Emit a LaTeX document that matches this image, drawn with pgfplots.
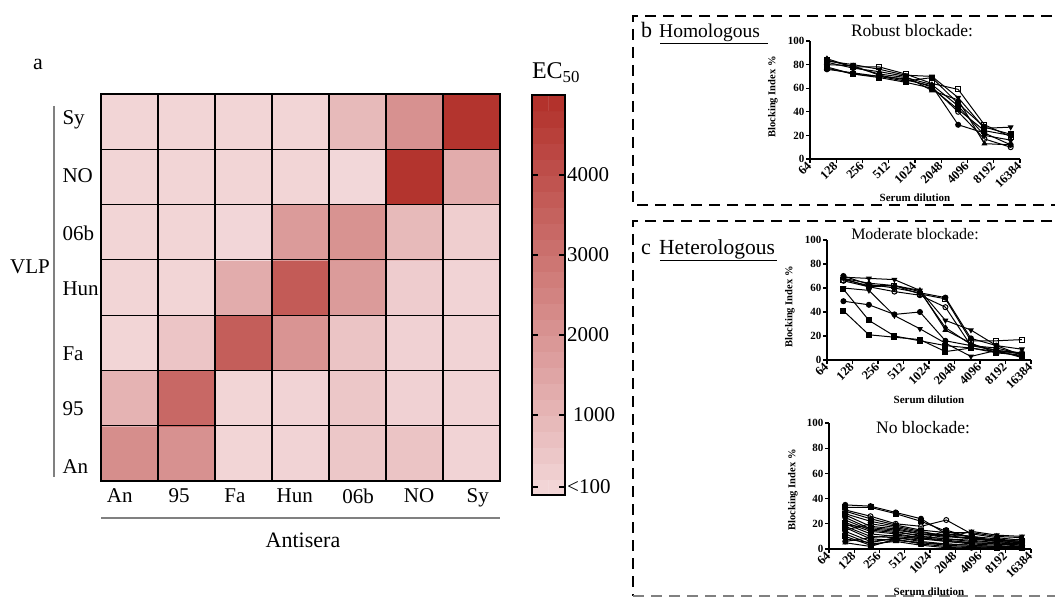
\documentclass[border=0pt]{standalone}
\usepackage{pgfplots}
\pgfplotsset{compat=1.18}
\usepackage{fontspec}
\setmainfont{Liberation Serif}
\newcommand{\fs}[1]{\fontsize{#1}{#1}\selectfont}
\begin{document}
\begin{tikzpicture}[x=1pt,y=1pt]
\path[use as bounding box] (0,0) rectangle (1055,598);
% ---------------- panel a ----------------
\begin{axis}[
  at={(101pt,117pt)}, anchor=south west,
  scale only axis, width=399pt, height=387pt,
  xmin=-0.5, xmax=6.5, ymin=-0.5, ymax=6.5,
  axis on top,
  axis line style={line width=2.5pt},
  xtick={-0.17,0.87,1.85,2.90,4.01,5.08,6.11},
  xticklabels={An,95,Fa,Hun,06b,NO,Sy},
  ytick={-0.23,0.80,1.81,2.97,3.98,5.02,6.03},
  yticklabels={An,95,Fa,Hun,06b,NO,Sy},
  major tick length=0pt,
  minor xtick={0.5,1.5,2.5,3.5,4.5,5.5},
  minor ytick={0.5,1.5,2.5,3.5,4.5,5.5},
  minor tick length=0pt,
  xminorgrids, yminorgrids,
  minor grid style={black, line width=1.1pt},
  tick label style={font=\fs{21}},
  xticklabel style={yshift=-4pt},
  yticklabel style={anchor=west, xshift=-42pt},
  colormap={ec}{rgb255(0)=(243,216,218) rgb255(1)=(178,48,42)},
  point meta min=0, point meta max=5000,
]
\addplot[matrix plot*, mesh/cols=7, point meta=explicit] table[meta=c]{
x y c
0 0 2200
1 0 2100
2 0 100
3 0 150
4 0 500
5 0 600
6 0 150
0 1 1100
1 1 3300
2 1 100
3 1 150
4 1 500
5 1 200
6 1 150
0 2 100
1 2 550
2 2 3600
3 2 2000
4 2 600
5 2 200
6 2 150
0 3 100
1 3 100
2 3 1300
3 3 3700
4 3 1800
5 3 350
6 3 150
0 4 100
1 4 100
2 4 60
3 4 1800
4 4 2050
5 4 900
6 4 300
0 5 100
1 5 100
2 5 100
3 5 100
4 5 40
5 5 4850
6 5 1300
0 6 100
1 6 100
2 6 100
3 6 100
4 6 900
5 6 2100
6 6 4850
};
\end{axis}
% ---------------- colour bar ----------------
\begin{axis}[
  at={(532pt,103pt)}, anchor=south west,
  scale only axis, width=33pt, height=400pt,
  xmin=-0.5, xmax=1.5, ymin=0, ymax=5000,
  xtick=\empty,
  ytick={100,1000,2000,3000,4000},
  yticklabels={{<100},{\hspace*{6pt}1000},2000,3000,4000},
  ytick pos=both, yticklabel pos=right,
  tick align=inside, major tick length=6pt,
  tick style={black, line width=1.3pt},
  axis line style={line width=2pt},
  axis on top,
  yticklabel style={font=\fs{21}, inner sep=2pt},
  colormap={ec}{rgb255(0)=(243,216,218) rgb255(1)=(178,48,42)},
  point meta min=0, point meta max=5000,
]
\addplot[matrix plot*, mesh/cols=2, point meta=explicit] table[meta=c]{
x y c
0 100 100
1 100 100
0 300 300
1 300 300
0 500 500
1 500 500
0 700 700
1 700 700
0 900 900
1 900 900
0 1100 1100
1 1100 1100
0 1300 1300
1 1300 1300
0 1500 1500
1 1500 1500
0 1700 1700
1 1700 1700
0 1900 1900
1 1900 1900
0 2100 2100
1 2100 2100
0 2300 2300
1 2300 2300
0 2500 2500
1 2500 2500
0 2700 2700
1 2700 2700
0 2900 2900
1 2900 2900
0 3100 3100
1 3100 3100
0 3300 3300
1 3300 3300
0 3500 3500
1 3500 3500
0 3700 3700
1 3700 3700
0 3900 3900
1 3900 3900
0 4100 4100
1 4100 4100
0 4300 4300
1 4300 4300
0 4500 4500
1 4500 4500
0 4700 4700
1 4700 4700
0 4900 4900
1 4900 4900
};
\end{axis}
\node[anchor=base, inner sep=0] at (38,528) {\fs{22}a};
\node[inner sep=0] at (30,331) {\fs{21}VLP};
\draw[gray, line width=1.8pt] (54,492) -- (54,121);
\draw[gray, line width=1.5pt] (101,80) -- (500,80);
\node[inner sep=0] at (303,58) {\fs{22}Antisera};
\node[inner sep=0] at (556,525) {\fs{24}EC\textsubscript{50}};
% ---------------- dashed boxes ----------------
\draw[line width=2.5pt, dash pattern=on 11pt off 7pt] (1070,582) -- (633,582) -- (633,393) -- (1070,393);
\draw[line width=2.5pt, dash pattern=on 11pt off 7pt] (1070,377) -- (633,377) -- (633,2);
\draw[gray, line width=2pt, dash pattern=on 11pt off 7pt] (633,2) -- (1070,2);
\node[anchor=base west, inner sep=0] at (641,560) {\fs{22}b};
\node[anchor=base west, inner sep=0] at (659,560) {\fs{19.5}Homologous};
\draw[line width=0.9pt] (660,555) -- (768,555);
\node[anchor=base west, inner sep=0] at (641,343) {\fs{22}c};
\node[anchor=base west, inner sep=0] at (659,343) {\fs{21.5}Heterologous};
\draw[line width=0.9pt] (660,338) -- (777,338);
% ---------------- panel b ----------------
\begin{axis}[at={(810pt,439pt)}, anchor=south west, scale only axis, width=210pt, height=118pt,
    xmode=log, log basis x=2,
    xmin=64, xmax=16384, ymin=0, ymax=100,
    xtick={64,128,256,512,1024,2048,4096,8192,16384},
    xticklabels={64,128,256,512,1024,2048,4096,8192,16384},
    ytick={0,20,40,60,80,100},
    yticklabels={0,20,40,60,80,100},
    axis lines*=left,
    axis line style={line width=1.3pt},
    tick style={line width=1.1pt, black},
    tick align=outside, major tick length=4pt,
    yticklabel style={font=\fs{11}\bfseries, inner sep=1.5pt},
    xticklabel style={font=\fs{12.5}\bfseries, rotate=45, anchor=east, inner sep=1pt},
    clip=false]
\addplot[black, line width=1pt, mark size=2.5pt, mark=square*] coordinates {(100,77) (200,72) (400,69) (800,65) (1600,60) (3200,42) (6400,24) (12800,20)};
\addplot[black, line width=1pt, mark size=2.5pt, mark=square, mark options={fill=white}] coordinates {(100,84) (200,78) (400,78) (800,72) (1600,64) (3200,59) (6400,29) (12800,19)};
\addplot[black, line width=1pt, mark size=2.5pt, mark=*] coordinates {(100,80) (200,79) (400,71) (800,67) (1600,62) (3200,29) (6400,22) (12800,12)};
\addplot[black, line width=1pt, mark size=2.5pt, mark=triangle*] coordinates {(100,82) (200,77) (400,74) (800,70) (1600,58) (3200,50) (6400,13) (12800,12)};
\addplot[black, line width=1pt, mark size=2.5pt, mark=triangle*, mark options={rotate=180}] coordinates {(100,83) (200,80) (400,76) (800,71) (1600,70) (3200,52) (6400,26) (12800,27)};
\addplot[black, line width=1pt, mark size=2.5pt, mark=o, mark options={fill=white}] coordinates {(100,76) (200,73) (400,70) (800,68) (1600,61) (3200,40) (6400,17) (12800,10)};
\addplot[black, line width=1pt, mark size=2.5pt, mark=diamond*] coordinates {(100,85) (200,78) (400,72) (800,69) (1600,63) (3200,45) (6400,20) (12800,16)};
\addplot[black, line width=1pt, mark size=2.5pt, mark=square*] coordinates {(100,78) (200,72) (400,70) (800,66) (1600,69) (3200,47) (6400,27) (12800,21)};
\end{axis}
\node[anchor=base, inner sep=0] at (912,561) {\fs{17.5}Robust blockade:};
\node[rotate=90, inner sep=0] at (773,501) {\fs{10.5}\bfseries Blocking Index \%};
\node[inner sep=0] at (915,400) {\fs{11}\bfseries Serum dilution};
% ---------------- panel c1 ----------------
\begin{axis}[at={(827pt,238pt)}, anchor=south west, scale only axis, width=204pt, height=120pt,
    xmode=log, log basis x=2,
    xmin=64, xmax=16384, ymin=0, ymax=100,
    xtick={64,128,256,512,1024,2048,4096,8192,16384},
    xticklabels={64,128,256,512,1024,2048,4096,8192,16384},
    ytick={0,20,40,60,80,100},
    yticklabels={0,20,40,60,80,100},
    axis lines*=left,
    axis line style={line width=1.3pt},
    tick style={line width=1.1pt, black},
    tick align=outside, major tick length=4pt,
    yticklabel style={font=\fs{11}\bfseries, inner sep=1.5pt},
    xticklabel style={font=\fs{12.5}\bfseries, rotate=45, anchor=east, inner sep=1pt},
    clip=false]
\addplot[black, line width=1pt, mark size=2.5pt, mark=square, mark options={fill=white}] coordinates {(100,67) (200,62) (400,62) (800,55) (1600,51) (3200,16) (6400,16) (12800,17)};
\addplot[black, line width=1pt, mark size=2.5pt, mark=*] coordinates {(100,70) (200,63) (400,60) (800,56) (1600,52) (3200,18) (6400,12) (12800,4)};
\addplot[black, line width=1pt, mark size=2.5pt, mark=triangle*, mark options={rotate=180}] coordinates {(100,69) (200,68) (400,67) (800,58) (1600,33) (3200,25) (6400,12) (12800,9)};
\addplot[black, line width=1pt, mark size=2.5pt, mark=o, mark options={fill=white}] coordinates {(100,66) (200,61) (400,57) (800,54) (1600,44) (3200,12) (6400,8) (12800,6)};
\addplot[black, line width=1pt, mark size=2.5pt, mark=*] coordinates {(100,49) (200,46) (400,38) (800,40) (1600,16) (3200,12) (6400,10) (12800,5)};
\addplot[black, line width=1pt, mark size=2.5pt, mark=square*] coordinates {(100,41) (200,21) (400,19) (800,17) (1600,7) (3200,10) (6400,7) (12800,3)};
\addplot[black, line width=1pt, mark size=2.5pt, mark=square*] coordinates {(100,59) (200,33) (400,20) (800,16) (1600,12) (3200,10) (6400,6) (12800,4)};
\addplot[black, line width=1pt, mark size=2.5pt, mark=triangle*, mark options={rotate=180}] coordinates {(100,60) (200,58) (400,37) (800,26) (1600,14) (3200,3) (6400,8) (12800,5)};
\addplot[black, line width=1pt, mark size=2.5pt, mark=triangle*] coordinates {(100,68) (200,64) (400,62) (800,58) (1600,25) (3200,14) (6400,6) (12800,6)};
\addplot[black, line width=1pt, mark size=2.5pt, mark=diamond*] coordinates {(100,68) (200,61) (400,62) (800,57) (1600,27) (3200,13) (6400,8) (12800,2)};
\end{axis}
\node[anchor=base, inner sep=0] at (915,358) {\fs{16}Moderate blockade:};
\node[rotate=90, inner sep=0] at (790,291) {\fs{10.5}\bfseries Blocking Index \%};
\node[inner sep=0] at (929,198) {\fs{11}\bfseries Serum dilution};
% ---------------- panel c2 ----------------
\begin{axis}[at={(829pt,49pt)}, anchor=south west, scale only axis, width=202pt, height=126pt,
    xmode=log, log basis x=2,
    xmin=64, xmax=16384, ymin=0, ymax=100,
    xtick={64,128,256,512,1024,2048,4096,8192,16384},
    xticklabels={64,128,256,512,1024,2048,4096,8192,16384},
    ytick={0,20,40,60,80,100},
    yticklabels={0,20,40,60,80,100},
    axis lines*=left,
    axis line style={line width=1.3pt},
    tick style={line width=1.1pt, black},
    tick align=outside, major tick length=4pt,
    yticklabel style={font=\fs{11}\bfseries, inner sep=1.5pt},
    xticklabel style={font=\fs{12.5}\bfseries, rotate=45, anchor=east, inner sep=1pt},
    clip=false]
\addplot[black, line width=1pt, mark size=2.5pt, mark=*] coordinates {(100,35) (200,34) (400,29) (800,24) (1600,12) (3200,10) (6400,8) (12800,6)};
\addplot[black, line width=1pt, mark size=2.5pt, mark=square*] coordinates {(100,33) (200,33) (400,28) (800,22) (1600,14) (3200,9) (6400,7) (12800,5)};
\addplot[black, line width=1pt, mark size=2.5pt, mark=o, mark options={fill=white}] coordinates {(100,31) (200,26) (400,20) (800,18) (1600,23) (3200,12) (6400,9) (12800,7)};
\addplot[black, line width=1pt, mark size=2.5pt, mark=triangle*] coordinates {(100,30) (200,24) (400,19) (800,15) (1600,13) (3200,13) (6400,10) (12800,9)};
\addplot[black, line width=1pt, mark size=2.5pt, mark=square*] coordinates {(100,28) (200,22) (400,18) (800,14) (1600,10) (3200,8) (6400,6) (12800,4)};
\addplot[black, line width=1pt, mark size=2.5pt, mark=triangle*, mark options={rotate=180}] coordinates {(100,27) (200,18) (400,16) (800,12) (1600,9) (3200,14) (6400,11) (12800,10)};
\addplot[black, line width=1pt, mark size=2.5pt, mark=*] coordinates {(100,25) (200,16) (400,14) (800,10) (1600,8) (3200,6) (6400,5) (12800,3)};
\addplot[black, line width=1pt, mark size=2.5pt, mark=diamond*] coordinates {(100,23) (200,15) (400,13) (800,11) (1600,12) (3200,10) (6400,6) (12800,8)};
\addplot[black, line width=1pt, mark size=2.5pt, mark=square*] coordinates {(100,21) (200,14) (400,12) (800,9) (1600,7) (3200,5) (6400,4) (12800,2)};
\addplot[black, line width=1pt, mark size=2.5pt, mark=triangle*] coordinates {(100,20) (200,12) (400,10) (800,8) (1600,6) (3200,4) (6400,3) (12800,1)};
\addplot[black, line width=1pt, mark size=2.5pt, mark=*] coordinates {(100,18) (200,10) (400,9) (800,7) (1600,15) (3200,9) (6400,6) (12800,5)};
\addplot[black, line width=1pt, mark size=2.5pt, mark=square*] coordinates {(100,17) (200,8) (400,7) (800,5) (1600,4) (3200,3) (6400,2) (12800,1)};
\addplot[black, line width=1pt, mark size=2.5pt, mark=triangle*, mark options={rotate=180}] coordinates {(100,15) (200,20) (400,17) (800,13) (1600,11) (3200,8) (6400,7) (12800,6)};
\addplot[black, line width=1pt, mark size=2.5pt, mark=*] coordinates {(100,14) (200,6) (400,8) (800,4) (1600,2) (3200,1) (6400,2) (12800,1)};
\addplot[black, line width=1pt, mark size=2.5pt, mark=triangle*] coordinates {(100,12) (200,4) (400,6) (800,3) (1600,1) (3200,2) (6400,1) (12800,0)};
\addplot[black, line width=1pt, mark size=2.5pt, mark=square*] coordinates {(100,10) (200,3) (400,7) (800,5) (1600,3) (3200,2) (6400,1) (12800,1)};
\addplot[black, line width=1pt, mark size=2.5pt, mark=diamond*] coordinates {(100,8) (200,5) (400,9) (800,6) (1600,4) (3200,3) (6400,2) (12800,2)};
\addplot[black, line width=1pt, mark size=2.5pt, mark=*] coordinates {(100,6) (200,9) (400,11) (800,9) (1600,6) (3200,5) (6400,4) (12800,3)};
\addplot[black, line width=1pt, mark size=2.5pt, mark=triangle*] coordinates {(100,5) (200,2) (400,8) (800,10) (1600,8) (3200,7) (6400,5) (12800,4)};
\addplot[black, line width=1pt, mark size=2.5pt, mark=square*] coordinates {(100,19) (200,17) (400,15) (800,12) (1600,10) (3200,9) (6400,7) (12800,6)};
\end{axis}
\node[anchor=base, inner sep=0] at (923,165) {\fs{17.5}No blockade:};
\node[rotate=90, inner sep=0] at (793,108) {\fs{10.5}\bfseries Blocking Index \%};
\node[inner sep=0] at (929,6) {\fs{11}\bfseries Serum dilution};
\end{tikzpicture}
\end{document}
